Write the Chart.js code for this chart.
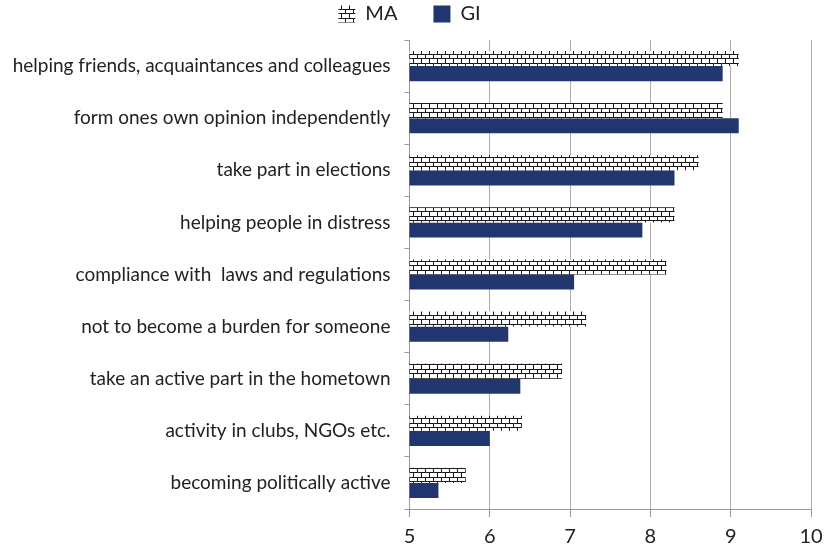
<!DOCTYPE html>
<html>
<head>
<meta charset="utf-8">
<script src="https://cdn.jsdelivr.net/npm/chart.js@4"></script>
<style>
  html, body { margin: 0; padding: 0; background: #fff; overflow: hidden; }
  #wrap { width: 827px; height: 554px; }
</style>
</head>
<body>
<div id="wrap"><canvas id="chart" width="827" height="554"></canvas></div>
<script>
const categories = [
  "helping friends, acquaintances and colleagues",
  "form ones own opinion independently",
  "take part in elections",
  "helping people in distress",
  "compliance with  laws and regulations",
  "not to become a burden for someone",
  "take an active part in the hometown",
  "activity in clubs, NGOs etc.",
  "becoming politically active"
]
const maValues = [9.1, 8.9, 8.6, 8.3, 8.2, 7.2, 6.9, 6.4, 5.7]
const giValues = [8.9, 9.1, 8.3, 7.9, 7.05, 6.23, 6.38, 6.0, 5.36]
const xTicks = [5, 6, 7, 8, 9, 10]

// brick hatch used for the MA bars
function brickPattern() {
  const c = document.createElement("canvas")
  c.width = 8
  c.height = 9
  const g = c.getContext("2d")
  g.fillStyle = "#fff"
  g.fillRect(0, 0, 8, 9)
  g.fillStyle = "#1a1a1a"
  g.fillRect(0, 0, 8, 1)
  g.fillRect(0, 4, 8, 1)
  g.fillRect(1, 0, 1, 5)
  g.fillRect(5, 4, 1, 5)
  return g.createPattern(c, "repeat")
}

const font = "Lato, 'DejaVu Sans', sans-serif"

// legend items need wide spacing, but the box itself stays short
const legendHeight = {
  id: "legendHeight",
  beforeInit(chart) {
    const fit = chart.legend.fit
    chart.legend.fit = function () {
      fit.call(this)
      this.height = 72
    }
  },
}

new Chart(document.getElementById("chart"), {
  type: "bar",
  data: {
    labels: categories,
    datasets: [
      { label: "MA", data: maValues, backgroundColor: brickPattern(), borderWidth: 0,
        categoryPercentage: 0.58, barPercentage: 1 },
      { label: "GI", data: giValues, backgroundColor: "#21356f", borderWidth: 0,
        categoryPercentage: 0.58, barPercentage: 1 },
    ],
  },
  plugins: [legendHeight],
  options: {
    indexAxis: "y",
    responsive: false,
    animation: false,
    layout: { padding: { top: -32, right: 16, bottom: -3, left: 8 } },
    plugins: {
      legend: {
        position: "top",
        labels: { color: "#222", font: { family: font, size: 20 }, boxWidth: 17, boxHeight: 17, padding: 36 },
      },
      tooltip: { enabled: false },
    },
    scales: {
      x: {
        min: 5,
        max: 10,
        afterBuildTicks: (axis) => { axis.ticks = xTicks.map((v) => ({ value: v })) },
        // the "10" label may run close to the edge
        afterFit: (axis) => { axis.paddingRight = 12 },
        ticks: { color: "#222", font: { family: font, size: 20 }, padding: 8, maxRotation: 0 },
        grid: { color: "#b3abab", lineWidth: 1, tickLength: 8, tickColor: "#999" },
        border: { color: "#999" },
      },
      y: {
        ticks: { color: "#222", font: { family: font, size: 19 }, padding: 14 },
        grid: { drawOnChartArea: false, tickLength: 5, tickColor: "#999", offset: true },
        border: { color: "#999" },
      },
    },
  },
})
</script>
</body>
</html>
